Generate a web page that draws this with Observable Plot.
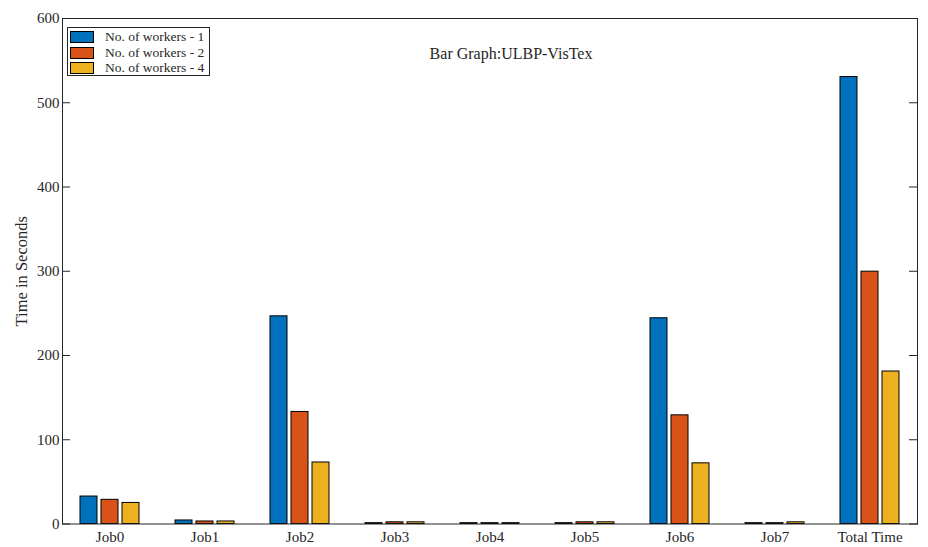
<!DOCTYPE html>
<html>
<head>
<meta charset="utf-8">
<script src="https://cdn.jsdelivr.net/npm/d3@7"></script>
<script src="https://cdn.jsdelivr.net/npm/@observablehq/plot@0.6"></script>
<style>
  body { margin: 0; background: #fff; }
  #chart { position: relative; width: 928px; height: 547px; font-family: "Liberation Serif", "Times New Roman", serif; }
  #chart svg { display: block; }
  .legend { position: absolute; left: 67px; top: 27px; width: 143px; height: 49px; border: 1px solid #262626; background: #fff; box-sizing: border-box; }
  .legend .row { position: absolute; left: 2px; height: 12px; display: flex; align-items: center; font-family: "Liberation Serif", "Times New Roman", serif; font-size: 13.5px; color: #262626; white-space: nowrap; }
  .legend .sw { width: 22px; height: 10px; border: 1px solid #000; margin-right: 11px; flex: none; }
</style>
</head>
<body>
<div id="chart"></div>
<script>
// Execution time per job for each worker count
const jobs = ["Job0", "Job1", "Job2", "Job3", "Job4", "Job5", "Job6", "Job7", "Total Time"];
const series = ["No. of workers - 1", "No. of workers - 2", "No. of workers - 4"];
const workers1 = [32.6, 4.2, 246.5, 1, 1, 1, 244.2, 1, 530.5];
const workers2 = [28.7, 3, 133, 2, 1, 2, 129, 1, 299.5];
const workers4 = [25, 3, 73, 2, 1, 2, 72, 2, 181];
const colors = ["#0072BD", "#D95319", "#EDB120"];
const yTicks = [0, 100, 200, 300, 400, 500, 600];

const valuesBySeries = [workers1, workers2, workers4];
const rows = jobs.flatMap((job, i) =>
  series.map((s, k) => ({job, series: s, value: valuesBySeries[k][i]}))
);

const ink = "#262626";
const serif = "'Liberation Serif', 'Times New Roman', serif";

const chart = Plot.plot({
  width: 928,
  height: 547,
  marginLeft: 60,
  marginRight: 10,
  marginTop: 18,
  marginBottom: 23.5,
  style: {fontFamily: serif, fontSize: "15px", color: ink, background: "#fff", overflow: "visible"},
  fx: {domain: jobs, padding: 0, label: null, axis: null},
  x: {domain: series, paddingInner: 0.2, paddingOuter: 0.8, axis: null},
  y: {domain: [0, 600], axis: null},
  color: {domain: series, range: colors},
  marks: [
    Plot.barY(rows, {fx: "job", x: "series", y: "value", fill: "series", stroke: "#000", strokeWidth: 1}),
    Plot.axisFx({anchor: "bottom", tickSize: 0, tickPadding: 7, label: null, fontSize: 15, fill: ink}),
    Plot.axisY({anchor: "left", ticks: yTicks, tickSize: 0, tickPadding: 3, fontSize: 15, fill: ink, label: null}),
    Plot.axisY({anchor: "left", ticks: yTicks, tickSize: -8, tickFormat: () => "", label: null, stroke: ink}),
    Plot.axisY({anchor: "right", ticks: yTicks, tickSize: -9, tickFormat: () => "", label: null, stroke: ink}),
    Plot.frame({facet: "super", stroke: ink, strokeWidth: 1}),
    Plot.text(["Time in Seconds"], {facet: "super", frameAnchor: "left", textAnchor: "middle", dx: -41, rotate: -90, fontSize: 16.5, fill: ink}),
    Plot.text(["Bar Graph:ULBP-VisTex"], {facet: "super", frameAnchor: "top", dx: 21, dy: 29, fontSize: 16, fill: ink})
  ]
});

const root = document.getElementById("chart");
root.appendChild(chart);

// Legend box in the upper-left corner of the plot area
const legend = document.createElement("div");
legend.className = "legend";
series.forEach((s, k) => {
  const row = document.createElement("div");
  row.className = "row";
  row.style.top = (3 + k * 15.5) + "px";
  const sw = document.createElement("span");
  sw.className = "sw";
  sw.style.background = colors[k];
  const label = document.createElement("span");
  label.textContent = s;
  row.appendChild(sw);
  row.appendChild(label);
  legend.appendChild(row);
});
root.appendChild(legend);
</script>
</body>
</html>
